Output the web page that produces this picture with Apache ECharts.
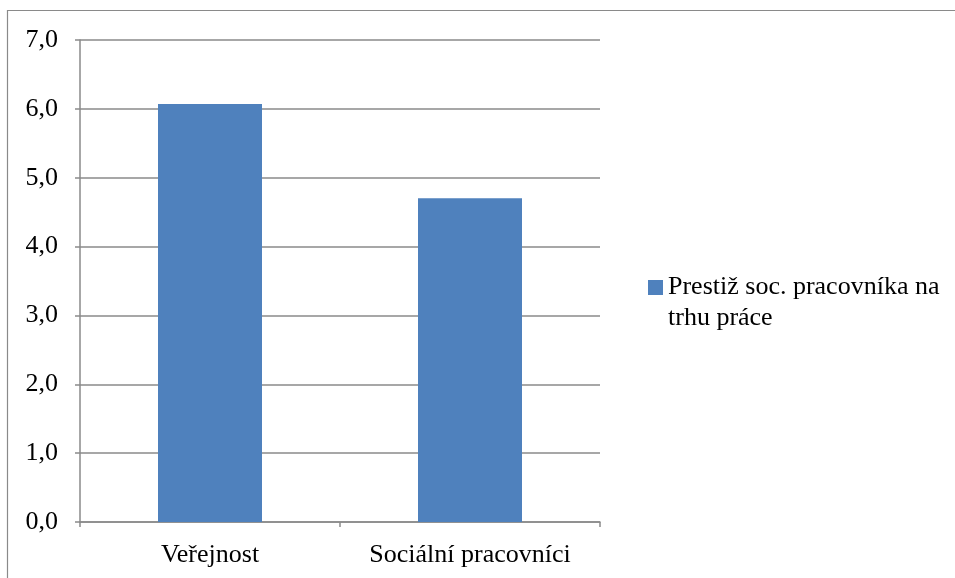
<!DOCTYPE html>
<html>
<head>
<meta charset="utf-8">
<script src="https://cdn.jsdelivr.net/npm/echarts@6/dist/echarts.min.js"></script>
<style>html,body{margin:0;padding:0;background:#fff}#c{width:955px;height:578px}</style>
</head>
<body>
<div id="c"></div>
<script>
const categories = ['Veřejnost', 'Sociální pracovníci'];
const seriesName = 'Prestiž soc. pracovníka na\ntrhu práce';
const values = [6.07, 4.70];
const yMin = 0, yMax = 7, yStep = 1;

const font = '"Liberation Serif", "Times New Roman", serif';
const chart = echarts.init(document.getElementById('c'), null, {renderer: 'canvas'});
chart.setOption({
  animation: false,
  backgroundColor: '#fff',
  graphic: [{
    type: 'rect', silent: true,
    shape: {x: 7.5, y: 10.5, width: 1200, height: 1200},
    style: {fill: 'none', stroke: '#8a8a8a', lineWidth: 1.2}
  }],
  grid: {left: 80, top: 40, right: 355, bottom: 56},
  legend: {
    left: 643, top: 267,
    itemWidth: 15, itemHeight: 46, itemGap: 10,
    icon: 'path://M0,0L15,0L15,15L0,15Z M0,46L0,46Z',
    textStyle: {fontFamily: font, fontSize: 26, color: '#000', lineHeight: 31},
    data: [seriesName]
  },
  xAxis: {
    type: 'category', data: categories, boundaryGap: true,
    axisLine: {lineStyle: {color: '#8a8a8a', width: 1.5}},
    axisTick: {show: true, interval: 0, length: 5, lineStyle: {color: '#8a8a8a', width: 1.5}},
    axisLabel: {interval: 0, fontFamily: font, fontSize: 26, color: '#000', margin: 20}
  },
  yAxis: {
    type: 'value', min: yMin, max: yMax, interval: yStep,
    axisLine: {show: true, lineStyle: {color: '#8a8a8a', width: 1.5}},
    axisTick: {show: true, length: 5, lineStyle: {color: '#8a8a8a', width: 1.5}},
    splitLine: {lineStyle: {color: '#8a8a8a', width: 1.5}},
    axisLabel: {fontFamily: font, fontSize: 26, color: '#000', margin: 22,
      formatter: v => v.toFixed(1).replace('.', ',')}
  },
  series: [{
    name: seriesName, type: 'bar', data: values, barWidth: '40%',
    itemStyle: {color: '#4F81BD'}
  }]
});
</script>
</body>
</html>
